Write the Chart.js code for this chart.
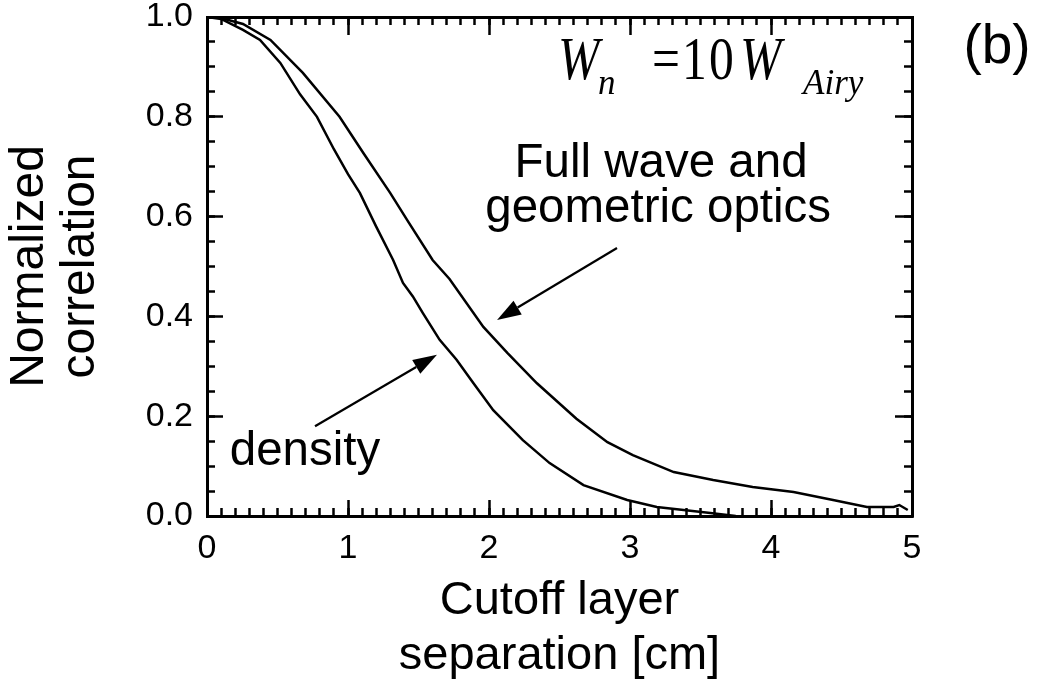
<!DOCTYPE html>
<html>
<head>
<meta charset="utf-8">
<script src="https://cdn.jsdelivr.net/npm/chart.js@4.4.1/dist/chart.umd.min.js"></script>
<style>
  html, body { margin: 0; padding: 0; background: #fff; }
  #chart { display: block; }
</style>
</head>
<body>
<canvas id="chart" width="1041" height="681"></canvas>
<script>
// full wave and geometric optics curve
const fullX = [0, 0.1, 0.255, 0.45, 0.68, 0.94, 1.11, 1.30, 1.42, 1.60, 1.72, 1.96, 2.13, 2.34, 2.62, 2.84, 3.02, 3.31, 3.59, 3.87, 4.16, 4.44, 4.68, 4.87, 4.91, 4.97];
const fullY = [1.0, 0.998, 0.986, 0.954, 0.888, 0.80, 0.727, 0.647, 0.593, 0.513, 0.475, 0.379, 0.327, 0.266, 0.195, 0.148, 0.122, 0.088, 0.072, 0.058, 0.048, 0.032, 0.018, 0.018, 0.022, 0.012];

// density curve
const densX = [0, 0.1, 0.255, 0.376, 0.52, 0.66, 0.78, 0.90, 1.0, 1.085, 1.2, 1.32, 1.39, 1.46, 1.53, 1.65, 1.77, 1.89, 2.03, 2.24, 2.43, 2.67, 2.98, 3.19, 3.38, 3.57, 3.75];
const densY = [1.0, 0.996, 0.974, 0.954, 0.908, 0.845, 0.80, 0.735, 0.685, 0.647, 0.58, 0.513, 0.467, 0.44, 0.407, 0.353, 0.313, 0.266, 0.212, 0.152, 0.106, 0.062, 0.032, 0.018, 0.012, 0.006, 0.0];

const xRange = [0, 5];
const yRange = [0, 1];
const xMajor = 1, xMinor = 0.1;
const yMajor = 0.2, yMinor = 0.05;

const sans = "'Liberation Sans', Arial, sans-serif";
const serif = "'Liberation Serif', 'Times New Roman', serif";

function pts(xs, ys) {
    return xs.map((x, i) => ({ x: x, y: ys[i] }));
}

// label padding would push the plot area around, drop it
function noPad(s) {
    s.paddingTop = 0;
    s.paddingBottom = 0;
    s.paddingLeft = 0;
    s.paddingRight = 0;
}

// extra axes only used for the inward ticks and the top / right frame
function frameAxis(axis, pos, step, len, border) {
    const r = axis === 'x' ? xRange : yRange;
    return {
        type: 'linear', axis: axis, position: pos, min: r[0], max: r[1],
        afterFit: noPad,
        ticks: { display: false, stepSize: step },
        grid: { drawOnChartArea: false, tickLength: len, tickWidth: 2.5, tickColor: '#000' },
        border: { display: border, color: '#000', width: 3 }
    };
}

// text and arrows, placed in data coordinates
const notes = [
    { text: 'Full wave and', x: 3.22, y: 0.679 },
    { text: 'geometric optics', x: 3.20, y: 0.589 },
    { text: 'density', x: 0.695, y: 0.102 }
];
const arrows = [
    { from: [2.908, 0.537], to: [2.057, 0.393] },
    { from: [0.766, 0.180], to: [1.631, 0.323] }
];
const formulaAt = [2.49, 0.875];
const panelLabel = { text: '(b)', x: 5.603, y: 0.938 };

const annotations = {
    id: 'annotations',
    afterDatasetsDraw(chart) {
        const ctx = chart.ctx;
        const sx = chart.scales.x, sy = chart.scales.y;
        ctx.save();
        ctx.fillStyle = '#000';
        ctx.strokeStyle = '#000';

        ctx.font = '47.5px ' + sans;
        ctx.textAlign = 'center';
        ctx.textBaseline = 'alphabetic';
        notes.forEach(n => ctx.fillText(n.text, sx.getPixelForValue(n.x), sy.getPixelForValue(n.y)));

        arrows.forEach(a => {
            const x1 = sx.getPixelForValue(a.from[0]), y1 = sy.getPixelForValue(a.from[1]);
            const x2 = sx.getPixelForValue(a.to[0]), y2 = sy.getPixelForValue(a.to[1]);
            const ang = Math.atan2(y2 - y1, x2 - x1);
            const len = 24, half = 8;
            const bx = x2 - len * Math.cos(ang), by = y2 - len * Math.sin(ang);
            ctx.lineWidth = 2.2;
            ctx.beginPath();
            ctx.moveTo(x1, y1);
            ctx.lineTo(bx, by);
            ctx.stroke();
            ctx.beginPath();
            ctx.moveTo(x2, y2);
            ctx.lineTo(bx + half * Math.sin(ang), by - half * Math.cos(ang));
            ctx.lineTo(bx - half * Math.sin(ang), by + half * Math.cos(ang));
            ctx.closePath();
            ctx.fill();
        });

        // W_n = 1 0 W_Airy  (text, x offset, y offset, font, narrow)
        const fx = sx.getPixelForValue(formulaAt[0]), fy = sy.getPixelForValue(formulaAt[1]);
        const big = 'italic 62px ' + serif, roman = '62px ' + serif, small = 'italic 35px ' + serif;
        const parts = [
            ['W', 0, 0, big, true], ['n', 40, 15, small], ['=', 94, 0, roman, true],
            ['1', 124, 0, roman, true], ['0', 151, 0, roman, true], ['W', 182, 0, big, true], ['Airy', 245, 15, small]
        ];
        ctx.textAlign = 'left';
        parts.forEach(p => {
            ctx.font = p[3];
            ctx.save();
            ctx.translate(fx + p[1], fy + p[2]);
            if (p[4]) ctx.scale(0.8, 1);
            ctx.fillText(p[0], 0, 0);
            ctx.restore();
        });

        ctx.font = '55px ' + sans;
        ctx.textAlign = 'center';
        ctx.textBaseline = 'middle';
        ctx.fillText(panelLabel.text, sx.getPixelForValue(panelLabel.x), sy.getPixelForValue(panelLabel.y));
        ctx.restore();
    }
};

const ctx = document.getElementById('chart');
const chart = new Chart(ctx, {
    type: 'line',
    data: {
        datasets: [{
            label: 'Full wave and geometric optics',
            data: pts(fullX, fullY),
            borderColor: '#000',
            borderWidth: 2.5,
            pointRadius: 0,
            fill: false,
            tension: 0
        }, {
            label: 'density',
            data: pts(densX, densY),
            borderColor: '#000',
            borderWidth: 2.5,
            pointRadius: 0,
            fill: false,
            tension: 0
        }]
    },
    options: {
        responsive: false,
        animation: false,
        events: [],
        layout: { padding: { left: 0, top: 17, right: 129, bottom: 0 } },
        plugins: { legend: { display: false }, tooltip: { enabled: false } },
        scales: {
            x: {
                type: 'linear', position: 'bottom', min: xRange[0], max: xRange[1],
                afterFit: s => { s.height = 165; noPad(s); },
                ticks: { stepSize: xMajor, color: '#000', font: { family: sans, size: 34 }, padding: 28, maxRotation: 0,
                    callback: v => String(v) },
                grid: { drawOnChartArea: false, tickLength: -16, tickWidth: 2.5, tickColor: '#000' },
                border: { color: '#000', width: 3 },
                title: { display: true, text: ['Cutoff layer', 'separation [cm]'], color: '#000',
                    font: { family: sans, size: 47, lineHeight: 1.17 }, padding: { top: 0, bottom: -3 } }
            },
            y: {
                type: 'linear', position: 'left', min: yRange[0], max: yRange[1],
                afterFit: s => { s.width = 207; noPad(s); },
                ticks: { stepSize: yMajor, color: '#000', font: { family: sans, size: 34 }, padding: 30,
                    callback: v => v.toFixed(1) },
                grid: { drawOnChartArea: false, tickLength: -16, tickWidth: 2.5, tickColor: '#000' },
                border: { color: '#000', width: 3 },
                title: { display: true, text: ['Normalized', 'correlation'], color: '#000',
                    font: { family: sans, size: 48, lineHeight: 1.05 }, padding: { top: 5, bottom: 0 } }
            },
            xMinor: frameAxis('x', { y: 0 }, xMinor, -8, false),
            xTop: frameAxis('x', { y: 1 }, xMajor, 16, true),
            xTopMinor: frameAxis('x', { y: 1 }, xMinor, 8, false),
            yMinor: frameAxis('y', { x: 0 }, yMinor, -8, false),
            yRight: frameAxis('y', { x: 5 }, yMajor, 16, true),
            yRightMinor: frameAxis('y', { x: 5 }, yMinor, 8, false)
        }
    },
    plugins: [annotations]
});
</script>
</body>
</html>
